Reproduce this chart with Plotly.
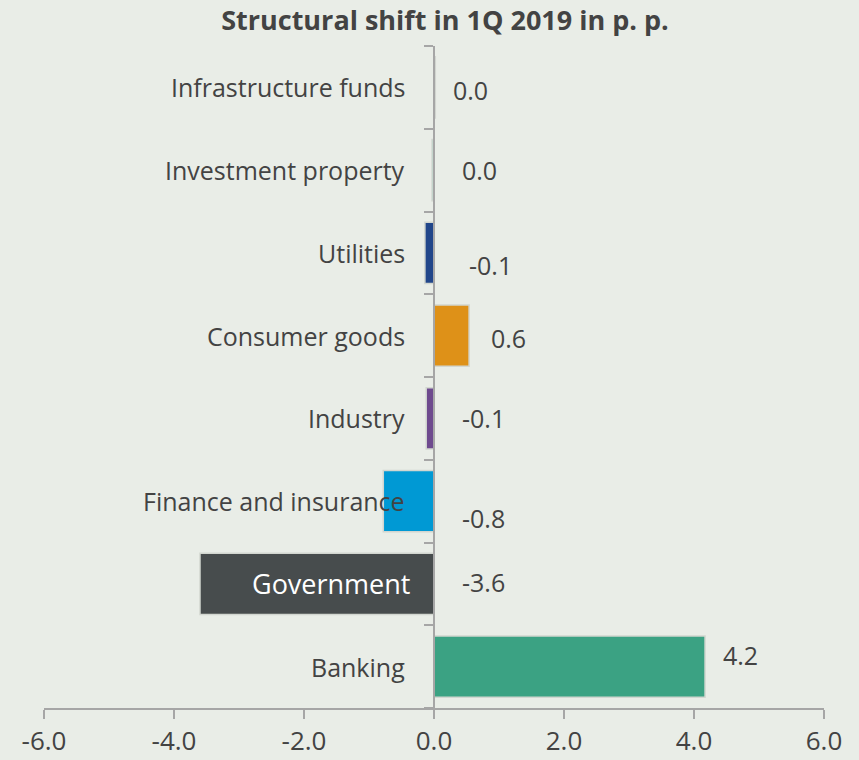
import plotly.graph_objects as go

# bottom to top
categories = ['Banking', 'Government', 'Finance and insurance', 'Industry',
              'Consumer goods', 'Utilities', 'Investment property', 'Infrastructure funds']
values = [4.17, -3.6, -0.78, -0.12, 0.54, -0.14, -0.03, 0.02]
value_text = ['4.2', '-3.6', '-0.8', '-0.1', '0.6', '-0.1', '0.0', '0.0']
colors = ['#3BA283', '#474C4D', '#0099D4', '#6E4A8E', '#DE9118', '#21468A', '#8FD3C0', '#C8CBC6']

x_ticks = [-6, -4, -2, 0, 2, 4, 6]

# label placement (style only)
label_x = [4.42, 0.4, 0.4, 0.4, 0.85, 0.5, 0.4, 0.26]
label_yshift = [12, 2, -17, 0, -2, -12, 0, -3]

BG = '#E9EDE7'
TXT = '#434343'
FONT = 'Open Sans'

fig = go.Figure()

fig.add_trace(go.Bar(
    x=values,
    y=categories,
    orientation='h',
    width=0.74,
    marker=dict(color=colors, line=dict(color='#D2D6D0', width=1.5)),
    showlegend=False,
    hoverinfo='skip'
))

# category labels next to the zero line (highlighted one sits inside its bar)
for cat in categories:
    hl = cat == 'Government'
    fig.add_annotation(
        x=-0.34 if hl else -0.42, y=cat, text=cat, showarrow=False, xanchor='right',
        font=dict(family=FONT, size=27 if hl else 25,
                  color='white' if hl else TXT)
    )

# value labels
for cat, txt, lx, ys in zip(categories, value_text, label_x, label_yshift):
    fig.add_annotation(
        x=lx, y=cat, text=txt, showarrow=False, xanchor='left', yshift=ys,
        font=dict(family=FONT, size=25, color=TXT)
    )

fig.update_layout(
    width=859,
    height=760,
    margin=dict(l=44, r=35, t=46, b=52),
    paper_bgcolor=BG,
    plot_bgcolor=BG,
    title=dict(
        text='<b>Structural shift in 1Q 2019 in p. p.</b>',
        x=445 / 859, xanchor='center', xref='container',
        y=0.973, yanchor='middle',
        font=dict(family=FONT, size=27, color=TXT)
    ),
    xaxis=dict(
        range=[-6, 6],
        tickvals=x_ticks,
        ticktext=[f'{v:.1f}' for v in x_ticks],
        showgrid=False,
        zeroline=False,
        showline=True,
        linecolor='#A6A6A6',
        linewidth=1.5,
        ticks='outside',
        ticklen=9,
        tickcolor='#A6A6A6',
        tickwidth=1.5,
        tickfont=dict(family=FONT, size=26, color=TXT),
        automargin=False,
        fixedrange=True
    ),
    yaxis=dict(
        range=[-0.5, 7.5],
        anchor='free',
        position=0.5,
        showgrid=False,
        zeroline=False,
        showline=True,
        linecolor='#A6A6A6',
        linewidth=1.5,
        ticks='outside',
        tickson='boundaries',
        ticklen=9,
        tickcolor='#A6A6A6',
        tickwidth=1.5,
        showticklabels=False,
        automargin=False,
        fixedrange=True
    ),
    bargap=0.26
)

# drop the default page margin so the figure sits at the window's corner
fig.write_html('out.html', config={'displayModeBar': False},
               post_script="document.body.style.margin='0';")
